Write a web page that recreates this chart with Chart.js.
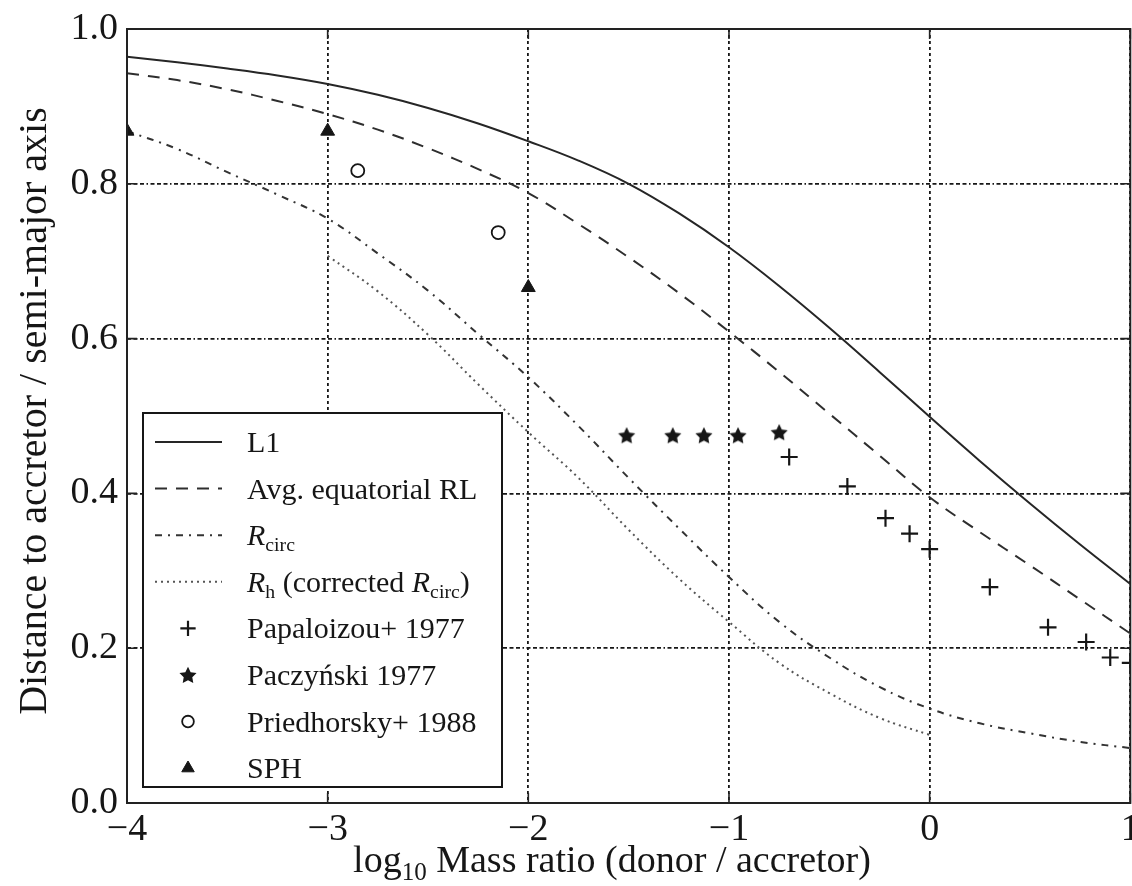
<!DOCTYPE html>
<html>
<head>
<meta charset="utf-8">
<script src="https://cdn.jsdelivr.net/npm/chart.js@4.4.1/dist/chart.umd.min.js"></script>
<style>
  html, body { margin: 0; padding: 0; background: #fff; overflow: hidden; }
  /* a little wider than the window so the last x label runs off the edge */
  #wrap { width: 1141px; height: 886px; position: relative; }
</style>
</head>
<body>
<div id="wrap"><canvas id="chart"></canvas></div>
<script>
const serif = "'Liberation Serif', 'DejaVu Serif', 'Times New Roman', serif";
const ink = '#161616';

// log10 q sampling of the analytic curves
const curveX = [-4, -3.75, -3.5, -3.25, -3, -2.75, -2.5, -2.25, -2, -1.75, -1.5,
                -1.25, -1, -0.75, -0.5, -0.25, 0, 0.25, 0.5, 0.75, 1];
const l1    = [0.964, 0.957, 0.949, 0.940, 0.929, 0.915, 0.898, 0.878, 0.855, 0.830, 0.800,
               0.762, 0.718, 0.668, 0.614, 0.557, 0.499, 0.442, 0.387, 0.334, 0.283];
const avgRL = [0.943, 0.934, 0.922, 0.907, 0.890, 0.870, 0.846, 0.819, 0.788, 0.748, 0.705,
               0.659, 0.609, 0.557, 0.503, 0.449, 0.395, 0.350, 0.307, 0.263, 0.219];
const rCirc = [0.868, 0.845, 0.815, 0.786, 0.755, 0.710, 0.662, 0.606, 0.550, 0.487, 0.420,
               0.355, 0.292, 0.234, 0.188, 0.150, 0.122, 0.103, 0.090, 0.079, 0.071];

// corrected circularisation radius only covers -3..0
const rhX = [-3, -2.75, -2.5, -2.25, -2, -1.75, -1.5, -1.25, -1, -0.75, -0.5, -0.25, 0];
const rh  = [0.707, 0.661, 0.605, 0.541, 0.479, 0.420, 0.353, 0.290, 0.234, 0.181, 0.142, 0.110, 0.088];

// published disc radii
const papX = [-0.70, -0.41, -0.22, -0.10, 0, 0.30, 0.59, 0.78, 0.90, 1.0];
const papY = [0.447, 0.409, 0.368, 0.348, 0.328, 0.279, 0.227, 0.208, 0.188, 0.181];
const paczX = [-1.51, -1.28, -1.125, -0.955, -0.75];
const paczY = [0.475, 0.475, 0.475, 0.475, 0.479];
const priedX = [-2.85, -2.15];
const priedY = [0.817, 0.737];
const sphX = [-4, -3, -2];
const sphY = [0.868, 0.868, 0.666];

const xTicks = [-4, -3, -2, -1, 0, 1];
const yTicks = [0, 0.2, 0.4, 0.6, 0.8, 1.0];

const pts = (xs, ys) => xs.map((x, i) => ({ x, y: ys[i] }));

// filled five-pointed star used as a point style
function starImage(r) {
  const c = document.createElement('canvas');
  const s = Math.ceil(r * 2 + 2);
  c.width = s; c.height = s;
  const g = c.getContext('2d');
  g.translate(s / 2, s / 2 + 0.8);
  g.beginPath();
  for (let i = 0; i < 10; i++) {
    const rad = i % 2 ? r * 0.5 : r;
    const a = -Math.PI / 2 + i * Math.PI / 5;
    g.lineTo(rad * Math.cos(a), rad * Math.sin(a));
  }
  g.closePath();
  g.fillStyle = ink;
  g.fill();
  return c;
}
const star = starImage(9);

function lineSet(label, rich, xs, ys, dash, color, width) {
  return {
    label, rich,
    data: pts(xs, ys),
    showLine: true,
    borderColor: color,
    borderWidth: width,
    borderDash: dash,
    pointRadius: 0,
    tension: 0.4,
    order: 2,
  };
}

function markerSet(label, rich, xs, ys, style, radius, fill, bw) {
  return {
    label, rich,
    data: pts(xs, ys),
    showLine: false,
    pointStyle: style,
    pointRadius: radius,
    pointHoverRadius: radius,
    pointBackgroundColor: fill,
    pointBorderColor: ink,
    pointBorderWidth: bw,
    order: 1,
  };
}

const datasets = [
  lineSet('L1', [{ t: 'L1' }], curveX, l1, [], '#262626', 2),
  lineSet('Avg. equatorial RL', [{ t: 'Avg. equatorial RL' }], curveX, avgRL, [12, 9], '#2e2e2e', 2),
  lineSet('Rcirc', [{ t: 'R', it: true }, { t: 'circ', sub: true }], curveX, rCirc, [7, 6, 2, 6], '#333', 2),
  lineSet('Rh (corrected Rcirc)', [{ t: 'R', it: true }, { t: 'h', sub: true }, { t: ' (corrected ' },
    { t: 'R', it: true }, { t: 'circ', sub: true }, { t: ')' }], rhX, rh, [2, 4], '#555', 2),
  markerSet('Papaloizou+ 1977', [{ t: 'Papaloizou+ 1977' }], papX, papY, 'cross', 8.5, ink, 2.2),
  markerSet('Paczyński 1977', [{ t: 'Paczyński 1977' }], paczX, paczY, star, 9, ink, 1),
  markerSet('Priedhorsky+ 1988', [{ t: 'Priedhorsky+ 1988' }], priedX, priedY, 'circle', 6.5, 'rgba(255,255,255,0)', 1.8),
  markerSet('SPH', [{ t: 'SPH' }], sphX, sphY, 'triangle', 8, ink, 1),
];

// draws a run of text pieces with italic and subscript parts
function drawRich(ctx, parts, x, y, size) {
  for (const p of parts) {
    const fs = p.sub ? size * 0.66 : size;
    ctx.font = (p.it ? 'italic ' : '') + fs + 'px ' + serif;
    ctx.fillText(p.t, x, p.sub ? y + size * 0.2 : y);
    x += ctx.measureText(p.t).width;
  }
  return x;
}

function richWidth(ctx, parts, size) {
  let w = 0;
  for (const p of parts) {
    const fs = p.sub ? size * 0.66 : size;
    ctx.font = (p.it ? 'italic ' : '') + fs + 'px ' + serif;
    w += ctx.measureText(p.t).width;
  }
  return w;
}

const decorations = {
  id: 'decorations',
  afterDraw(chart) {
    const { ctx, chartArea: a, scales: { x, y } } = chart;
    ctx.save();
    ctx.fillStyle = ink;
    ctx.strokeStyle = ink;
    ctx.textAlign = 'left';
    ctx.textBaseline = 'alphabetic';

    // legend box
    const box = { l: 143, t: 413, r: 502, b: 787 };
    ctx.fillStyle = '#fff';
    ctx.fillRect(box.l, box.t, box.r - box.l, box.b - box.t);
    ctx.lineWidth = 2;
    ctx.strokeRect(box.l, box.t, box.r - box.l, box.b - box.t);

    chart.data.datasets.forEach((ds, i) => {
      const rowY = 442 + i * 46.6;
      ctx.save();
      if (ds.showLine) {
        ctx.strokeStyle = ds.borderColor;
        ctx.lineWidth = ds.borderWidth;
        ctx.setLineDash(ds.borderDash);
        ctx.beginPath();
        ctx.moveTo(155, rowY);
        ctx.lineTo(222, rowY);
        ctx.stroke();
      } else {
        ctx.fillStyle = ds.pointBackgroundColor;
        ctx.strokeStyle = ds.pointBorderColor;
        ctx.lineWidth = ds.pointBorderWidth;
        Chart.helpers.drawPoint(ctx, {
          pointStyle: ds.pointStyle,
          radius: ds.pointRadius * 0.9,
          rotation: 0,
          borderWidth: ds.pointBorderWidth,
        }, 188, rowY);
      }
      ctx.restore();
      ctx.fillStyle = ink;
      drawRich(ctx, ds.rich, 247, rowY + 10, 30);
    });

    // frame and inward ticks
    ctx.setLineDash([]);
    ctx.lineWidth = 2;
    ctx.strokeStyle = '#222';
    ctx.strokeRect(a.left, a.top, a.right - a.left, a.bottom - a.top);
    ctx.lineWidth = 1.6;
    ctx.beginPath();
    xTicks.forEach(v => {
      const px = x.getPixelForValue(v);
      ctx.moveTo(px, a.bottom); ctx.lineTo(px, a.bottom - 10);
      ctx.moveTo(px, a.top); ctx.lineTo(px, a.top + 10);
    });
    yTicks.forEach(v => {
      const py = y.getPixelForValue(v);
      ctx.moveTo(a.left, py); ctx.lineTo(a.left + 10, py);
      ctx.moveTo(a.right, py); ctx.lineTo(a.right - 10, py);
    });
    ctx.stroke();

    // axis titles
    ctx.fillStyle = ink;
    const xTitle = [{ t: 'log' }, { t: '10', sub: true }, { t: ' Mass ratio (donor / accretor)' }];
    const w = richWidth(ctx, xTitle, 38);
    drawRich(ctx, xTitle, 612 - w / 2, 872, 38);

    ctx.translate(46, 411);
    ctx.rotate(-Math.PI / 2);
    ctx.textAlign = 'center';
    ctx.font = '40px ' + serif;
    ctx.fillText('Distance to accretor / semi-major axis', 0, 0);
    ctx.restore();
  }
};

const minus = v => (v < 0 ? '\u2212' + Math.abs(v) : String(v));

new Chart(document.getElementById('chart'), {
  type: 'scatter',
  data: { datasets },
  options: {
    responsive: true,
    maintainAspectRatio: false,
    animation: false,
    events: [],
    layout: { padding: { top: 29, right: 1, left: 0, bottom: 0 } },
    plugins: { legend: { display: false }, tooltip: { enabled: false } },
    scales: {
      x: {
        type: 'linear',
        min: -4, max: 1,
        afterBuildTicks: s => { s.ticks = xTicks.map(value => ({ value })); },
        afterFit: s => { s.height = 83; s.paddingLeft = 0; s.paddingRight = 0; },
        grid: { color: ink, lineWidth: 1.8, drawTicks: false },
        border: { display: false, dash: [3, 3] },
        ticks: {
          color: ink, padding: 4, maxRotation: 0, autoSkip: false,
          font: { family: serif, size: 38 },
          callback: v => minus(v),
        },
      },
      y: {
        type: 'linear',
        min: 0, max: 1,
        afterBuildTicks: s => { s.ticks = yTicks.map(value => ({ value })); },
        afterFit: s => { s.width = 127; s.paddingTop = 0; s.paddingBottom = 0; },
        grid: { color: ink, lineWidth: 1.8, drawTicks: false },
        border: { display: false, dash: [4, 2.5, 4, 2.5, 4, 2.5, 1.5, 2.5] },
        ticks: {
          color: ink, padding: 9,
          font: { family: serif, size: 38 },
          callback: v => v.toFixed(1),
        },
      },
    },
  },
  plugins: [decorations],
});
</script>
</body>
</html>
